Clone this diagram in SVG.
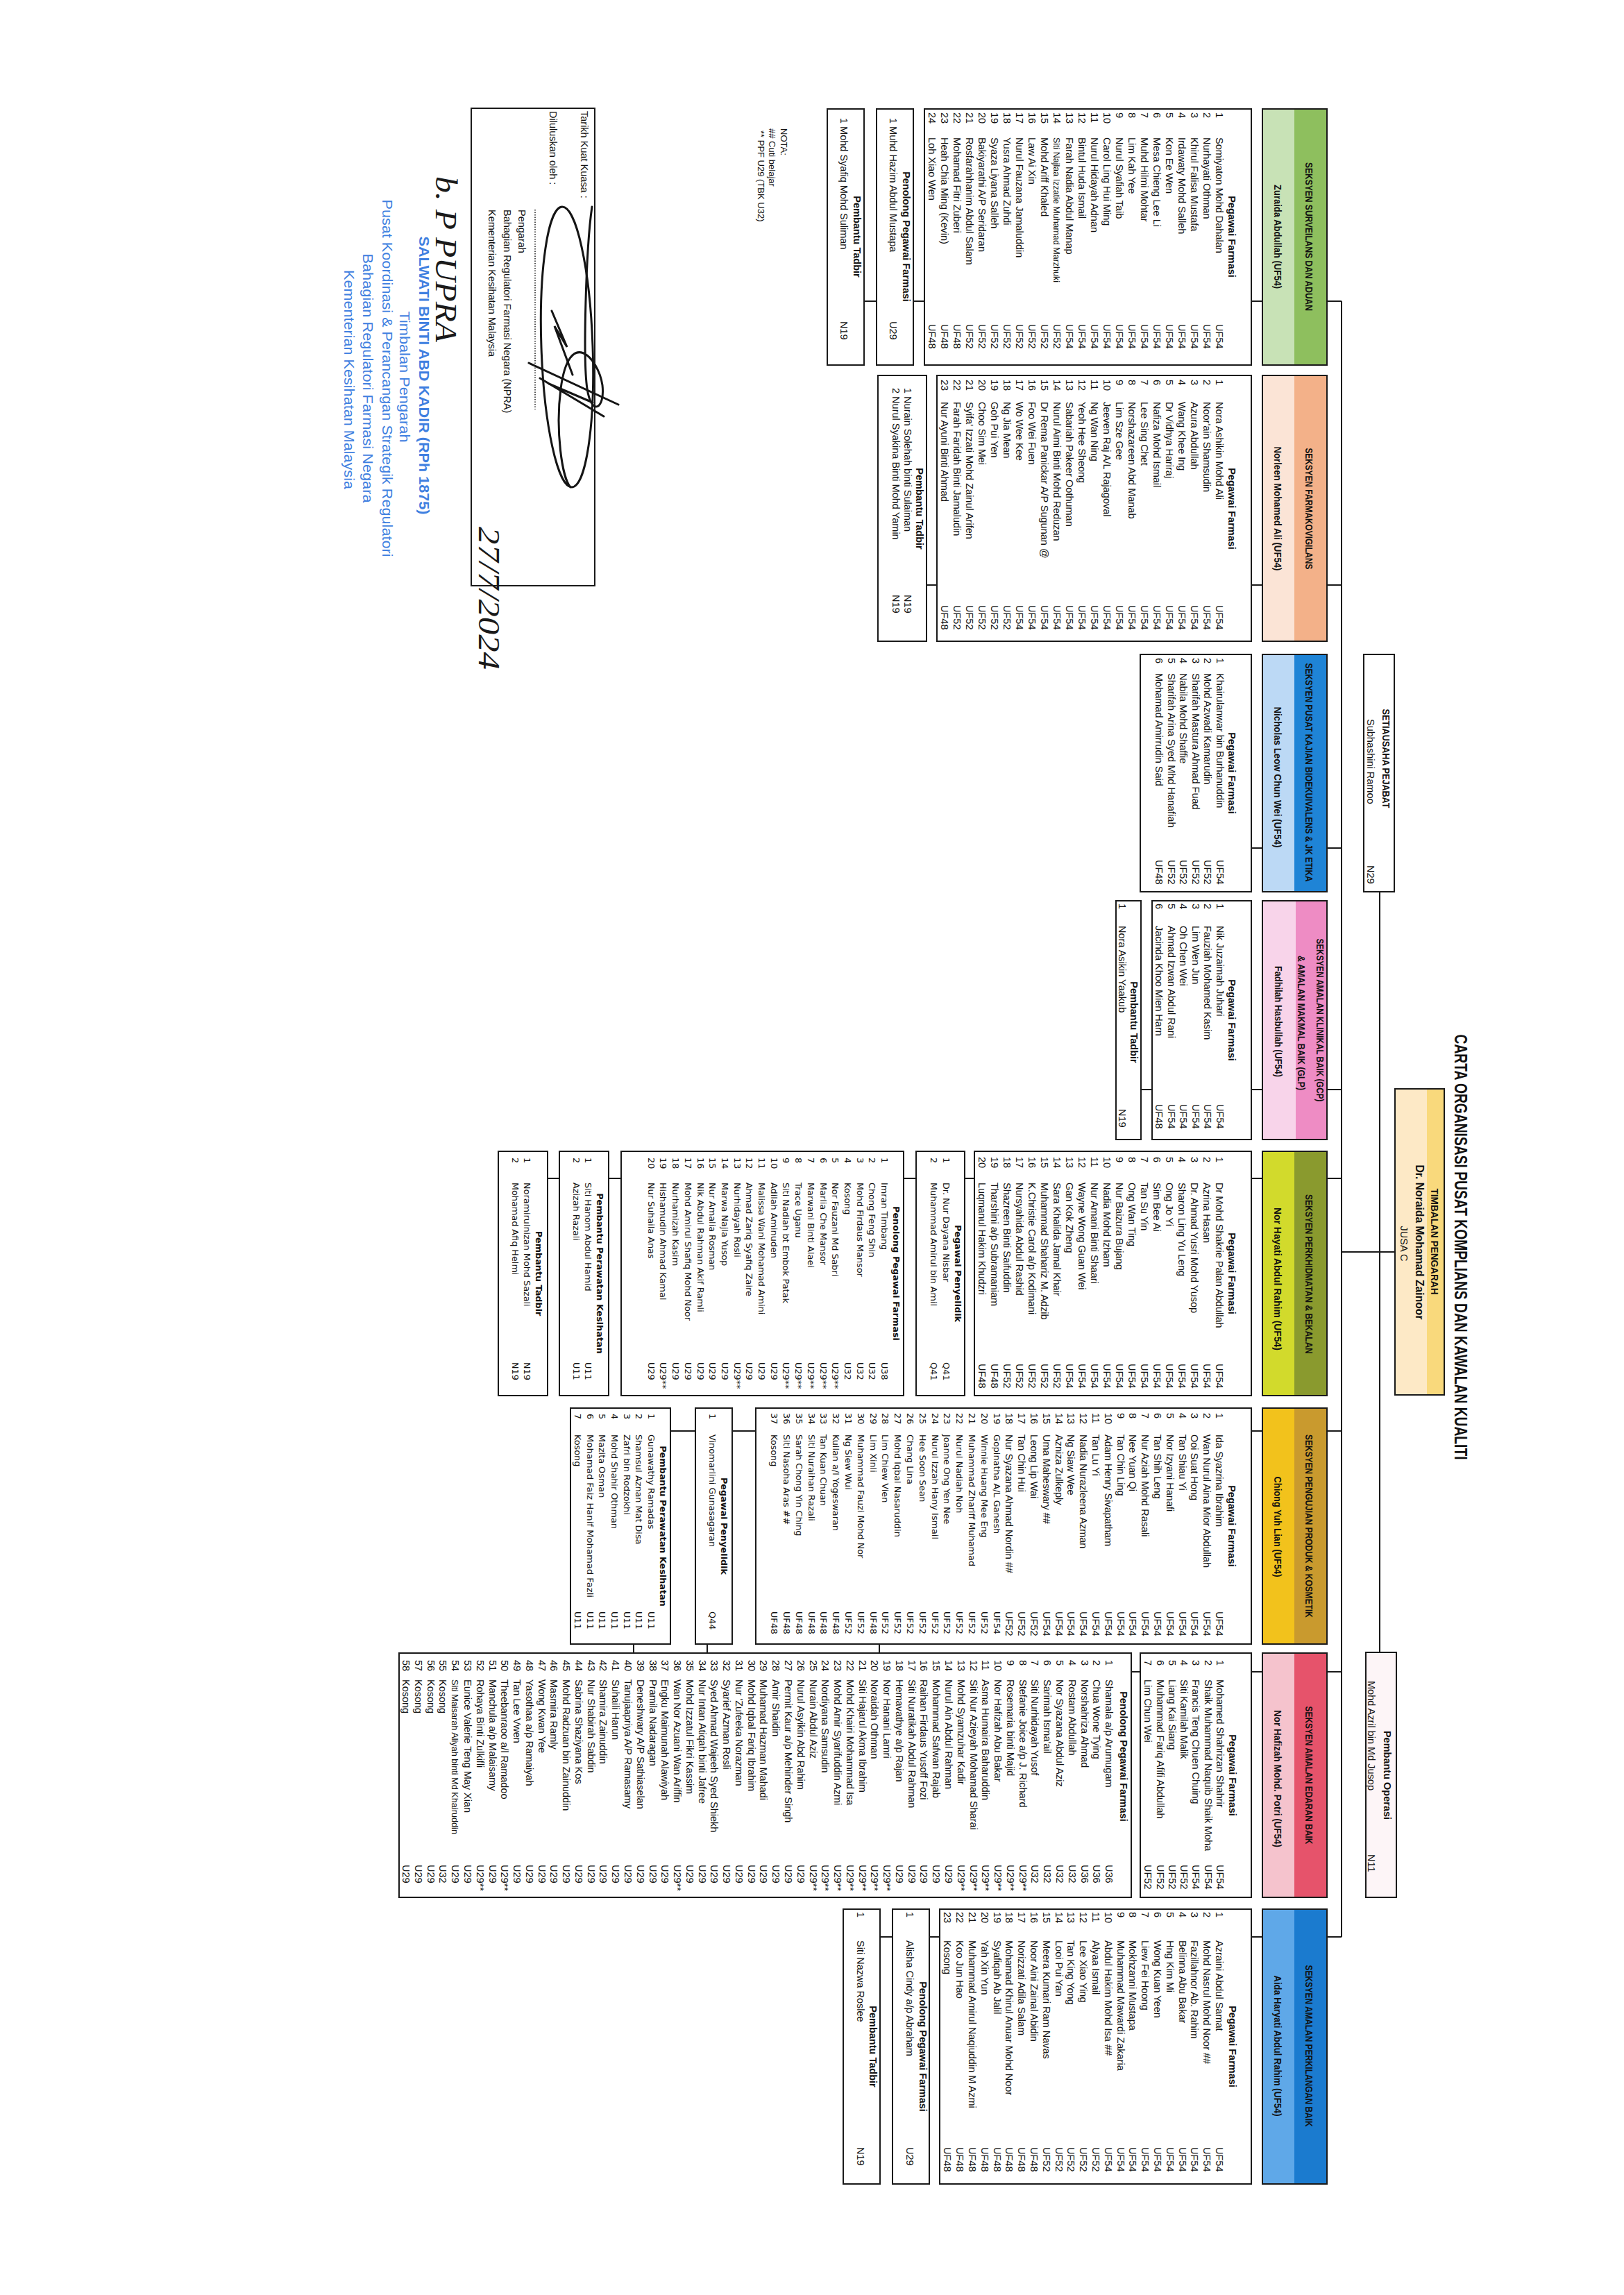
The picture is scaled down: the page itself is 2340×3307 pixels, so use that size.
<svg xmlns="http://www.w3.org/2000/svg" width="2340" height="3307" viewBox="0 0 2340 3307">
<style>
.t{font-family:"Liberation Sans",Arial,sans-serif;font-size:14.5px;fill:#111}
.bd{font-weight:bold}
.mid{text-anchor:middle}
.dv{font-family:"DejaVu Sans",Verdana,sans-serif;font-size:12.8px;fill:#111}
.hd{font-family:"Liberation Sans",Arial,sans-serif;font-weight:bold;font-size:14px;fill:#111;text-anchor:middle}
.box{fill:#fff;stroke:#1a1a1a;stroke-width:2}
.hb{fill:none;stroke:#1a1a1a;stroke-width:2}
.cn{fill:none;stroke:#1a1a1a;stroke-width:2}
.stamp{font-family:"Liberation Sans",Arial,sans-serif;font-size:21px;fill:#3f80e0;text-anchor:middle}
.hw{font-family:"Liberation Serif",serif;font-style:italic;font-size:44px;fill:#1a1a1a}
</style>
<rect x="0" y="0" width="2340" height="3307" fill="#fff"/>
<g transform="translate(2340,0) rotate(90)">

<text class="t bd mid" x="1797" y="244" style="font-size:25px" textLength="613" lengthAdjust="spacingAndGlyphs">CARTA ORGANISASI PUSAT KOMPLIANS DAN KAWALAN KUALITI</text>

<g id="connectors">
<path class="cn" d="M434 407H2791 M1804 330V407 M1285 352H2381
M434 407V428 M843 407V428 M1222 407V428 M1570 407V428 M1698 407V428 M2062 407V428 M2409 407V428 M2791 407V428
M434 521V537 M843 521V537 M1222 521V537 M1570 521V537 M1698 521V537 M2062 521V537 M2409 521V537 M2791 521V537
M434 1008V1024 M434 1077V1095 M843 990V1005 M1570 680V696
M1698 936V950 M1698 1020V1038 M1698 1445V1463 M1698 1534V1551
M2062 1251V1285 M2062 1338V1374 M2409 697V710
M2791 986V1001 M2791 1054V1072
M2369 1073H2382 M2369 1321H2382 M2369 1427H2382"/>
</g>

<g id="timbalan-pengarah">
<rect x="1569" y="259" width="441" height="71" fill="#fde9c6"/>
<rect x="1569" y="259" width="441" height="25" fill="#f9d97c"/>
<rect class="hb" x="1569" y="259" width="441" height="71"/>
<text class="t bd mid" x="1789" y="278" style="font-size:14px" textLength="153" lengthAdjust="spacingAndGlyphs">TIMBALAN PENGARAH</text>
<text class="t bd mid" x="1790" y="300" style="font-size:16px" textLength="223" lengthAdjust="spacingAndGlyphs">Dr. Noraida Mohamad Zainoor</text>
<text class="t mid" x="1792" y="322">JUSA C</text>
</g>

<g id="setiausaha-pejabat">
<rect class="box" x="943" y="331" width="342" height="44"/>
<text class="t bd mid" x="1093" y="348" style="font-size:14px" textLength="143" lengthAdjust="spacingAndGlyphs">SETIAUSAHA PEJABAT</text>
<text class="t" x="1036" y="370">Subhashini Ramoo</text>
<text class="t" x="1247" y="370">N29</text>
</g>

<g id="pembantu-operasi">
<rect x="2381" y="328" width="353" height="44" fill="#fdf5f7" stroke="#1a1a1a" stroke-width="2"/>
<text class="t bd mid" x="2558" y="346">Pembantu Operasi</text>
<text class="t" x="2422" y="369">Mohd Azril bin Md Jusop</text>
<text class="t" x="2672" y="369">N11</text>
</g>

<!-- Column 1 -->
<g id="sek-surveilans">
<rect x="157" y="428" width="369" height="93" fill="#c8e2b6"/>
<rect x="157" y="428" width="369" height="47" fill="#8ebf5e"/>
<rect class="hb" x="157" y="428" width="369" height="93"/>
<text class="hd" x="341" y="459" textLength="214" lengthAdjust="spacingAndGlyphs">SEKSYEN SURVEILANS DAN ADUAN</text>
<text class="hd" x="341" y="504" textLength="150" lengthAdjust="spacingAndGlyphs">Zuraida Abdullah (UF54)</text>
</g>
<g id="surv-pf">
<rect class="box" x="157" y="537" width="369" height="471"/>
<text class="t bd mid" x="341" y="570">Pegawai Farmasi</text>
<text class="t" y="588"><tspan x="162">1</tspan><tspan x="198">Somiyaton Mohd Dahalan</tspan><tspan x="467">UF54</tspan></text>
<text class="t" y="606"><tspan x="162">2</tspan><tspan x="198">Nurhayati Othman</tspan><tspan x="467">UF54</tspan></text>
<text class="t" y="624"><tspan x="162">3</tspan><tspan x="198">Khirul Falisa Mustafa</tspan><tspan x="467">UF54</tspan></text>
<text class="t" y="642"><tspan x="162">4</tspan><tspan x="198">Irdawaty Mohd Salleh</tspan><tspan x="467">UF54</tspan></text>
<text class="t" y="660"><tspan x="162">5</tspan><tspan x="198">Kon Ee Wen</tspan><tspan x="467">UF54</tspan></text>
<text class="t" y="678"><tspan x="162">6</tspan><tspan x="198">Mesa Chieng Lee Li</tspan><tspan x="467">UF54</tspan></text>
<text class="t" y="696"><tspan x="162">7</tspan><tspan x="198">Muhd Hilmi Mohtar</tspan><tspan x="467">UF54</tspan></text>
<text class="t" y="714"><tspan x="162">8</tspan><tspan x="198">Lim Kah Yee</tspan><tspan x="467">UF54</tspan></text>
<text class="t" y="732"><tspan x="162">9</tspan><tspan x="198">Nurul Syafiah Taib</tspan><tspan x="467">UF54</tspan></text>
<text class="t" y="750"><tspan x="162">10</tspan><tspan x="198">Carol Ling Hui Ming</tspan><tspan x="467">UF54</tspan></text>
<text class="t" y="768"><tspan x="162">11</tspan><tspan x="198">Nurul Hidayah Adnan</tspan><tspan x="467">UF54</tspan></text>
<text class="t" y="786"><tspan x="162">12</tspan><tspan x="198">Bintul Huda Ismail</tspan><tspan x="467">UF54</tspan></text>
<text class="t" y="804"><tspan x="162">13</tspan><tspan x="198">Farah Nadia Abdul Manap</tspan><tspan x="467">UF54</tspan></text>
<text class="t" y="822"><tspan x="162">14</tspan><tspan x="467">UF52</tspan></text>
<text class="t" x="198" y="822" style="font-size:13px" textLength="209" lengthAdjust="spacingAndGlyphs">Siti Najlaa Izzatie Muhamad Marzhuki</text>
<text class="t" y="840"><tspan x="162">15</tspan><tspan x="198">Mohd Ariff Khaled</tspan><tspan x="467">UF52</tspan></text>
<text class="t" y="858"><tspan x="162">16</tspan><tspan x="198">Law Ai Xin</tspan><tspan x="467">UF52</tspan></text>
<text class="t" y="876"><tspan x="162">17</tspan><tspan x="198">Nurul Fauzana Jamaluddin</tspan><tspan x="467">UF52</tspan></text>
<text class="t" y="894"><tspan x="162">18</tspan><tspan x="198">Yusra Ahmad Zuhdi</tspan><tspan x="467">UF52</tspan></text>
<text class="t" y="912"><tspan x="162">19</tspan><tspan x="198">Syaza Liyana Salleh</tspan><tspan x="467">UF52</tspan></text>
<text class="t" y="930"><tspan x="162">20</tspan><tspan x="198">Bakiyarathi A/P Seridaran</tspan><tspan x="467">UF52</tspan></text>
<text class="t" y="948"><tspan x="162">21</tspan><tspan x="198">Rosfarahhanim Abdul Salam</tspan><tspan x="467">UF52</tspan></text>
<text class="t" y="966"><tspan x="162">22</tspan><tspan x="198">Mohamad Fitri Zuberi</tspan><tspan x="467">UF48</tspan></text>
<text class="t" y="984"><tspan x="162">23</tspan><tspan x="198">Heah Chia Ming (Kevin)</tspan><tspan x="467">UF48</tspan></text>
<text class="t" y="1002"><tspan x="162">24</tspan><tspan x="198">Loh Xiao Wen</tspan><tspan x="467">UF48</tspan></text>
</g>
<g id="surv-ppf">
<rect class="box" x="157" y="1024" width="369" height="53"/>
<text class="t bd mid" x="341" y="1039">Penolong Pegawai Farmasi</text>
<text class="t" y="1058"><tspan x="170">1 Muhd Hazim Abdul Mustapa</tspan><tspan x="463">U29</tspan></text>
</g>
<g id="surv-pt">
<rect class="box" x="157" y="1095" width="369" height="53"/>
<text class="t bd mid" x="341" y="1110">Pembantu Tadbir</text>
<text class="t" y="1129"><tspan x="170">1 Mohd Syafiq Mohd Suliman</tspan><tspan x="463">N19</tspan></text>
</g>
<g id="nota">
<text class="t" x="185" y="1215" style="font-size:13px">NOTA:</text>
<text class="t" x="185" y="1232" style="font-size:13px">## Cuti belajar</text>
<text class="t" x="188" y="1248" style="font-size:13px">** PPF U29 (TBK U32)</text>
</g>

<!-- Column 2 -->
<g id="sek-farmakovigilans">
<rect x="541" y="428" width="383" height="93" fill="#fbe4d6"/>
<rect x="541" y="428" width="383" height="47" fill="#f3b189"/>
<rect class="hb" x="541" y="428" width="383" height="93"/>
<text class="hd" x="733" y="459" textLength="175" lengthAdjust="spacingAndGlyphs">SEKSYEN FARMAKOVIGILANS</text>
<text class="hd" x="733" y="504" textLength="179" lengthAdjust="spacingAndGlyphs">Norleen Mohamed Ali (UF54)</text>
</g>
<g id="fv-pf">
<rect class="box" x="541" y="537" width="383" height="453"/>
<text class="t bd mid" x="733" y="570">Pegawai Farmasi</text>
<text class="t" y="588"><tspan x="547">1</tspan><tspan x="579">Nora Ashikin Mohd Ali</tspan><tspan x="872">UF54</tspan></text>
<text class="t" y="606"><tspan x="547">2</tspan><tspan x="579">Noor'ain Shamsudin</tspan><tspan x="872">UF54</tspan></text>
<text class="t" y="624"><tspan x="547">3</tspan><tspan x="579">Azura Abdullah</tspan><tspan x="872">UF54</tspan></text>
<text class="t" y="642"><tspan x="547">4</tspan><tspan x="579">Wang Khee Ing</tspan><tspan x="872">UF54</tspan></text>
<text class="t" y="660"><tspan x="547">5</tspan><tspan x="579">Dr Vidhya Hariraj</tspan><tspan x="872">UF54</tspan></text>
<text class="t" y="678"><tspan x="547">6</tspan><tspan x="579">Nafiza Mohd Ismail</tspan><tspan x="872">UF54</tspan></text>
<text class="t" y="696"><tspan x="547">7</tspan><tspan x="579">Lee Sing Chet</tspan><tspan x="872">UF54</tspan></text>
<text class="t" y="714"><tspan x="547">8</tspan><tspan x="579">Norshazareen Abd Manab</tspan><tspan x="872">UF54</tspan></text>
<text class="t" y="732"><tspan x="547">9</tspan><tspan x="579">Lim Sze Gee</tspan><tspan x="872">UF54</tspan></text>
<text class="t" y="750"><tspan x="547">10</tspan><tspan x="579">Jeeven Raj A/L Rajagoval</tspan><tspan x="872">UF54</tspan></text>
<text class="t" y="768"><tspan x="547">11</tspan><tspan x="579">Ng Wan Ning</tspan><tspan x="872">UF54</tspan></text>
<text class="t" y="786"><tspan x="547">12</tspan><tspan x="579">Yeoh Hee Sheong</tspan><tspan x="872">UF54</tspan></text>
<text class="t" y="804"><tspan x="547">13</tspan><tspan x="579">Sabariah Pakeer Oothuman</tspan><tspan x="872">UF54</tspan></text>
<text class="t" y="822"><tspan x="547">14</tspan><tspan x="579">Nurul Aimi Binti Mohd Reduzan</tspan><tspan x="872">UF54</tspan></text>
<text class="t" y="840"><tspan x="547">15</tspan><tspan x="579">Dr Rema Panickar A/P Sugunan @</tspan><tspan x="872">UF54</tspan></text>
<text class="t" y="858"><tspan x="547">16</tspan><tspan x="579">Foo Wei Fuen</tspan><tspan x="872">UF54</tspan></text>
<text class="t" y="876"><tspan x="547">17</tspan><tspan x="579">Wo Wee Kee</tspan><tspan x="872">UF54</tspan></text>
<text class="t" y="894"><tspan x="547">18</tspan><tspan x="579">Ng Jia Mean</tspan><tspan x="872">UF52</tspan></text>
<text class="t" y="912"><tspan x="547">19</tspan><tspan x="579">Goh Pui Yen</tspan><tspan x="872">UF52</tspan></text>
<text class="t" y="930"><tspan x="547">20</tspan><tspan x="579">Choo Sim Mei</tspan><tspan x="872">UF52</tspan></text>
<text class="t" y="948"><tspan x="547">21</tspan><tspan x="579">Syifa' Izzati Mohd Zainul Arifen</tspan><tspan x="872">UF52</tspan></text>
<text class="t" y="966"><tspan x="547">22</tspan><tspan x="579">Farah Faridah Binti Jamaludin</tspan><tspan x="872">UF52</tspan></text>
<text class="t" y="984"><tspan x="547">23</tspan><tspan x="579">Nur Ayuni Binti Ahmad</tspan><tspan x="872">UF48</tspan></text>
</g>
<g id="fv-pt">
<rect class="box" x="541" y="1005" width="383" height="70"/>
<text class="t bd mid" x="733" y="1020">Pembantu Tadbir</text>
<text class="t" y="1037"><tspan x="559">1 Nurain Solehah binti Sulaiman</tspan><tspan x="857">N19</tspan></text>
<text class="t" y="1054"><tspan x="559">2 Nurul Syakina Binti Mohd Yamin</tspan><tspan x="857">N19</tspan></text>
</g>

<!-- Column 3 -->
<g id="sek-bioekuivalens">
<rect x="943" y="428" width="342" height="93" fill="#bcd9f5"/>
<rect x="943" y="428" width="342" height="47" fill="#1f84d6"/>
<rect class="hb" x="943" y="428" width="342" height="93"/>
<text class="hd" x="1113" y="459" textLength="315" lengthAdjust="spacingAndGlyphs">SEKSYEN PUSAT KAJIAN BIOEKUIVALENS &amp; JK ETIKA</text>
<text class="hd" x="1120" y="504" textLength="203" lengthAdjust="spacingAndGlyphs">Nicholas Leow Chun Wei (UF54)</text>
</g>
<g id="be-pf">
<rect class="box" x="943" y="537" width="342" height="160"/>
<text class="t bd mid" x="1114" y="570">Pegawai Farmasi</text>
<text class="t" y="587"><tspan x="948">1</tspan><tspan x="970">Khairulanwar bin Burhanuddin</tspan><tspan x="1239">UF54</tspan></text>
<text class="t" y="604.6"><tspan x="948">2</tspan><tspan x="970">Mohd Azwadi Kamarudin</tspan><tspan x="1239">UF52</tspan></text>
<text class="t" y="622.2"><tspan x="948">3</tspan><tspan x="970">Sharifah Mastura Ahmad Fuad</tspan><tspan x="1239">UF52</tspan></text>
<text class="t" y="639.8"><tspan x="948">4</tspan><tspan x="970">Nabila Mohd Shaffie</tspan><tspan x="1239">UF52</tspan></text>
<text class="t" y="657.4"><tspan x="948">5</tspan><tspan x="970">Sharifah Arina Syed Mhd Hanafiah</tspan><tspan x="1239">UF52</tspan></text>
<text class="t" y="675"><tspan x="948">6</tspan><tspan x="970">Mohamad Amirrudin Said</tspan><tspan x="1239">UF48</tspan></text>
</g>

<!-- Column 4 -->
<g id="sek-gcp-glp">
<rect x="1298" y="428" width="344" height="93" fill="#f8d4ea"/>
<rect x="1298" y="428" width="344" height="45" fill="#ee8cc4"/>
<rect class="hb" x="1298" y="428" width="344" height="93"/>
<text class="hd" x="1470" y="443" textLength="235" lengthAdjust="spacingAndGlyphs">SEKSYEN AMALAN KLINIKAL BAIK (GCP)</text>
<text class="hd" x="1474" y="470" textLength="194" lengthAdjust="spacingAndGlyphs">&amp; AMALAN MAKMAL BAIK (GLP)</text>
<text class="hd" x="1472" y="503" textLength="160" lengthAdjust="spacingAndGlyphs">Fadhilah Hasbullah (UF54)</text>
</g>
<g id="gcp-pf">
<rect class="box" x="1298" y="537" width="344" height="143"/>
<text class="t bd mid" x="1470" y="570">Pegawai Farmasi</text>
<text class="t" y="587"><tspan x="1302">1</tspan><tspan x="1334">Nik Juzaimah Juhari</tspan><tspan x="1591">UF54</tspan></text>
<text class="t" y="604.6"><tspan x="1302">2</tspan><tspan x="1334">Fauziah Mohamed Kasim</tspan><tspan x="1591">UF54</tspan></text>
<text class="t" y="622.2"><tspan x="1302">3</tspan><tspan x="1334">Lim Wen Jun</tspan><tspan x="1591">UF54</tspan></text>
<text class="t" y="639.8"><tspan x="1302">4</tspan><tspan x="1334">Oh Chen Wei</tspan><tspan x="1591">UF54</tspan></text>
<text class="t" y="657.4"><tspan x="1302">5</tspan><tspan x="1334">Ahmad Izwan Abdul Rani</tspan><tspan x="1591">UF54</tspan></text>
<text class="t" y="675"><tspan x="1302">6</tspan><tspan x="1334">Jacinda Khoo Mien Harn</tspan><tspan x="1591">UF48</tspan></text>
</g>
<g id="gcp-pt">
<rect class="box" x="1298" y="696" width="344" height="36"/>
<text class="t bd mid" x="1473" y="711">Pembantu Tadbir</text>
<text class="t" y="728"><tspan x="1302">1</tspan><tspan x="1334">Nora Asikin Yaakub</tspan><tspan x="1598">N19</tspan></text>
</g>

<!-- Column 5 -->
<g id="sek-perkhidmatan">
<rect x="1659" y="428" width="352" height="93" fill="#d2da2c"/>
<rect x="1659" y="428" width="352" height="47" fill="#8a9a2e"/>
<rect class="hb" x="1659" y="428" width="352" height="93"/>
<text class="hd" x="1836" y="459" textLength="230" lengthAdjust="spacingAndGlyphs">SEKSYEN PERKHIDMATAN &amp; BEKALAN</text>
<text class="hd" x="1843" y="504" textLength="206" lengthAdjust="spacingAndGlyphs">Nor Hayati Abdul Rahim (UF54)</text>
</g>
<g id="pb-pf">
<rect class="box" x="1659" y="537" width="352" height="399"/>
<text class="t bd mid" x="1835" y="570">Pegawai Farmasi</text>
<text class="t" y="588"><tspan x="1667">1</tspan><tspan x="1704">Dr Mohd Shakrie Palan Abdullah</tspan><tspan x="1965">UF54</tspan></text>
<text class="t" y="606"><tspan x="1667">2</tspan><tspan x="1704">Azrina Hasan</tspan><tspan x="1965">UF54</tspan></text>
<text class="t" y="624"><tspan x="1667">3</tspan><tspan x="1704">Dr. Ahmad Yusri Mohd Yusop</tspan><tspan x="1965">UF54</tspan></text>
<text class="t" y="642"><tspan x="1667">4</tspan><tspan x="1704">Sharon Ling Yu Leng</tspan><tspan x="1965">UF54</tspan></text>
<text class="t" y="660"><tspan x="1667">5</tspan><tspan x="1704">Ong Jo Yi</tspan><tspan x="1965">UF54</tspan></text>
<text class="t" y="678"><tspan x="1667">6</tspan><tspan x="1704">Sim Bee Ai</tspan><tspan x="1965">UF54</tspan></text>
<text class="t" y="696"><tspan x="1667">7</tspan><tspan x="1704">Tan Su Yin</tspan><tspan x="1965">UF54</tspan></text>
<text class="t" y="714"><tspan x="1667">8</tspan><tspan x="1704">Ong Wan Ting</tspan><tspan x="1965">UF54</tspan></text>
<text class="t" y="732"><tspan x="1667">9</tspan><tspan x="1704">Nur Baizura Bujang</tspan><tspan x="1965">UF54</tspan></text>
<text class="t" y="750"><tspan x="1667">10</tspan><tspan x="1704">Nadia Mohd Izham</tspan><tspan x="1965">UF54</tspan></text>
<text class="t" y="768"><tspan x="1667">11</tspan><tspan x="1704">Nur Amani Binti Shaari</tspan><tspan x="1965">UF54</tspan></text>
<text class="t" y="786"><tspan x="1667">12</tspan><tspan x="1704">Wayne Wong Guan Wei</tspan><tspan x="1965">UF54</tspan></text>
<text class="t" y="804"><tspan x="1667">13</tspan><tspan x="1704">Gan Kok Zheng</tspan><tspan x="1965">UF54</tspan></text>
<text class="t" y="822"><tspan x="1667">14</tspan><tspan x="1704">Sara Khalida Jamal Khair</tspan><tspan x="1965">UF52</tspan></text>
<text class="t" y="840"><tspan x="1667">15</tspan><tspan x="1704">Muhammad Shahariz M. Adzib</tspan><tspan x="1965">UF52</tspan></text>
<text class="t" y="858"><tspan x="1667">16</tspan><tspan x="1704">K.Christie Carol a/p Kodimani</tspan><tspan x="1965">UF52</tspan></text>
<text class="t" y="876"><tspan x="1667">17</tspan><tspan x="1704">Nursyahida Abdul Rashid</tspan><tspan x="1965">UF52</tspan></text>
<text class="t" y="894"><tspan x="1667">18</tspan><tspan x="1704">Shazreen Binti Saifuddin</tspan><tspan x="1965">UF52</tspan></text>
<text class="t" y="912"><tspan x="1667">19</tspan><tspan x="1704">Tharshini a/p Subramaniam</tspan><tspan x="1965">UF48</tspan></text>
<text class="t" y="930"><tspan x="1667">20</tspan><tspan x="1704">Luqmanul Hakim Khudzri</tspan><tspan x="1965">UF48</tspan></text>
</g>
<g id="pb-pp">
<rect class="box" x="1659" y="950" width="352" height="70"/>
<text class="dv bd mid" x="1835" y="964">Pegawai Penyelidik</text>
<text class="dv" y="981"><tspan x="1668">1</tspan><tspan x="1704">Dr. Nur Dayana Nisbar</tspan><tspan x="1963">Q41</tspan></text>
<text class="dv" y="999"><tspan x="1668">2</tspan><tspan x="1704">Muhammad Amirul bin Amil</tspan><tspan x="1963">Q41</tspan></text>
</g>
<g id="pb-ppf">
<rect class="box" x="1659" y="1038" width="352" height="407"/>
<text class="dv bd mid" x="1835" y="1053">Penolong Pegawai Farmasi</text>
<text class="dv" y="1070"><tspan x="1668">1</tspan><tspan x="1704">Imran Timbang</tspan><tspan x="1963">U38</tspan></text>
<text class="dv" y="1087.7"><tspan x="1668">2</tspan><tspan x="1704">Chong Feng Shin</tspan><tspan x="1963">U32</tspan></text>
<text class="dv" y="1105.4"><tspan x="1668">3</tspan><tspan x="1704">Mohd Firdaus Mansor</tspan><tspan x="1963">U32</tspan></text>
<text class="dv" y="1123.1"><tspan x="1668">4</tspan><tspan x="1704">Kosong</tspan><tspan x="1963">U32</tspan></text>
<text class="dv" y="1140.8"><tspan x="1668">5</tspan><tspan x="1704">Nor Fauzani Md Sabri</tspan><tspan x="1963">U29**</tspan></text>
<text class="dv" y="1158.5"><tspan x="1668">6</tspan><tspan x="1704">Marlia Che Mansor</tspan><tspan x="1963">U29**</tspan></text>
<text class="dv" y="1176.2"><tspan x="1668">7</tspan><tspan x="1704">Marwani Binti Alaei</tspan><tspan x="1963">U29**</tspan></text>
<text class="dv" y="1193.9"><tspan x="1668">8</tspan><tspan x="1704">Trace Uganu</tspan><tspan x="1963">U29**</tspan></text>
<text class="dv" y="1211.6"><tspan x="1668">9</tspan><tspan x="1704">Siti Nadiah bt Embok Patak</tspan><tspan x="1963">U29**</tspan></text>
<text class="dv" y="1229.3"><tspan x="1668">10</tspan><tspan x="1704">Adilah Aminuden</tspan><tspan x="1963">U29</tspan></text>
<text class="dv" y="1247"><tspan x="1668">11</tspan><tspan x="1704">Malissa Wani Mohamad Amini</tspan><tspan x="1963">U29</tspan></text>
<text class="dv" y="1264.7"><tspan x="1668">12</tspan><tspan x="1704">Ahmad Zariq Syafiq Zaire</tspan><tspan x="1963">U29</tspan></text>
<text class="dv" y="1282.4"><tspan x="1668">13</tspan><tspan x="1704">Nurhidayah Rosli</tspan><tspan x="1963">U29**</tspan></text>
<text class="dv" y="1300.1"><tspan x="1668">14</tspan><tspan x="1704">Marwa Najla Yusop</tspan><tspan x="1963">U29</tspan></text>
<text class="dv" y="1317.8"><tspan x="1668">15</tspan><tspan x="1704">Nur Amalia Rosman</tspan><tspan x="1963">U29</tspan></text>
<text class="dv" y="1335.5"><tspan x="1668">16</tspan><tspan x="1704">Nik Abdul Rahman Akif Ramli</tspan><tspan x="1963">U29</tspan></text>
<text class="dv" y="1353.2"><tspan x="1668">17</tspan><tspan x="1704">Mohd Amirul Shafiq Mohd Noor</tspan><tspan x="1963">U29</tspan></text>
<text class="dv" y="1370.9"><tspan x="1668">18</tspan><tspan x="1704">Nurhamizah Kasim</tspan><tspan x="1963">U29</tspan></text>
<text class="dv" y="1388.6"><tspan x="1668">19</tspan><tspan x="1704">Hishamudin Ahmad Kamal</tspan><tspan x="1963">U29**</tspan></text>
<text class="dv" y="1406.3"><tspan x="1668">20</tspan><tspan x="1704">Nur Suhaila Anas</tspan><tspan x="1963">U29</tspan></text>
</g>
<g id="pb-ppk">
<rect class="box" x="1659" y="1463" width="352" height="71"/>
<text class="dv bd mid" x="1835" y="1480">Pembantu Perawatan Kesihatan</text>
<text class="dv" y="1497"><tspan x="1668">1</tspan><tspan x="1704">Siti Hanom Abdul Hamid</tspan><tspan x="1963">U11</tspan></text>
<text class="dv" y="1514"><tspan x="1668">2</tspan><tspan x="1704">Azizah Razali</tspan><tspan x="1963">U11</tspan></text>
</g>
<g id="pb-pt">
<rect class="box" x="1659" y="1551" width="352" height="71"/>
<text class="dv bd mid" x="1835" y="1568">Pembantu Tadbir</text>
<text class="dv" y="1585"><tspan x="1668">1</tspan><tspan x="1704">Noramirulnizan Mohd Sazali</tspan><tspan x="1963">N19</tspan></text>
<text class="dv" y="1602"><tspan x="1668">2</tspan><tspan x="1704">Mohamad Afiq Helmi</tspan><tspan x="1963">N19</tspan></text>
</g>

<!-- Column 6 -->
<g id="sek-pengujian">
<rect x="2029" y="428" width="340" height="93" fill="#f2c21c"/>
<rect x="2029" y="428" width="340" height="47" fill="#c99a2e"/>
<rect class="hb" x="2029" y="428" width="340" height="93"/>
<text class="hd" x="2199" y="459" textLength="264" lengthAdjust="spacingAndGlyphs">SEKSYEN PENGUJIAN PRODUK &amp; KOSMETIK</text>
<text class="hd" x="2200" y="504" textLength="145" lengthAdjust="spacingAndGlyphs">Chiong Yuh Lian (UF54)</text>
</g>
<g id="pk-pf">
<rect class="box" x="2029" y="537" width="340" height="714"/>
<text class="t bd mid" x="2199" y="570">Pegawai Farmasi</text>
<text class="t" y="588"><tspan x="2036">1</tspan><tspan x="2067">Ida Syazrina Ibrahim</tspan><tspan x="2322">UF54</tspan></text>
<text class="t" y="605.8"><tspan x="2036">2</tspan><tspan x="2067">Wan Nurul Aina Mior Abdullah</tspan><tspan x="2322">UF54</tspan></text>
<text class="t" y="623.6"><tspan x="2036">3</tspan><tspan x="2067">Ooi Suat Hong</tspan><tspan x="2322">UF54</tspan></text>
<text class="t" y="641.4"><tspan x="2036">4</tspan><tspan x="2067">Tan Shiau Yi</tspan><tspan x="2322">UF54</tspan></text>
<text class="t" y="659.2"><tspan x="2036">5</tspan><tspan x="2067">Nor Izyani Hanafi</tspan><tspan x="2322">UF54</tspan></text>
<text class="t" y="677"><tspan x="2036">6</tspan><tspan x="2067">Tan Shih Leng</tspan><tspan x="2322">UF54</tspan></text>
<text class="t" y="694.8"><tspan x="2036">7</tspan><tspan x="2067">Nur Aziah Mohd Rasali</tspan><tspan x="2322">UF54</tspan></text>
<text class="t" y="712.6"><tspan x="2036">8</tspan><tspan x="2067">Nee Yuan Qi</tspan><tspan x="2322">UF54</tspan></text>
<text class="t" y="730.4"><tspan x="2036">9</tspan><tspan x="2067">Tan Chin Ling</tspan><tspan x="2322">UF54</tspan></text>
<text class="t" y="748.2"><tspan x="2036">10</tspan><tspan x="2067">Adam Henry Sivapatham</tspan><tspan x="2322">UF54</tspan></text>
<text class="t" y="766"><tspan x="2036">11</tspan><tspan x="2067">Tan Lu Yi</tspan><tspan x="2322">UF54</tspan></text>
<text class="t" y="783.8"><tspan x="2036">12</tspan><tspan x="2067">Nadia Nurazleena Azman</tspan><tspan x="2322">UF54</tspan></text>
<text class="t" y="801.6"><tspan x="2036">13</tspan><tspan x="2067">Ng Siaw Wee</tspan><tspan x="2322">UF54</tspan></text>
<text class="t" y="819.4"><tspan x="2036">14</tspan><tspan x="2067">Azniza Zulkeply</tspan><tspan x="2322">UF54</tspan></text>
<text class="t" y="837.2"><tspan x="2036">15</tspan><tspan x="2067">Uma Maheswary ##</tspan><tspan x="2322">UF54</tspan></text>
<text class="t" y="855"><tspan x="2036">16</tspan><tspan x="2067">Leong Lip Wai</tspan><tspan x="2322">UF52</tspan></text>
<text class="t" y="872.8"><tspan x="2036">17</tspan><tspan x="2067">Tan Chin Hui</tspan><tspan x="2322">UF52</tspan></text>
<text class="t" y="890.6"><tspan x="2036">18</tspan><tspan x="2067">Nur Syazana Ahmad Nordin ##</tspan><tspan x="2322">UF52</tspan></text>
<text class="dv" y="908.4"><tspan x="2036">19</tspan><tspan x="2067">Gopinatha A/L Ganesh</tspan><tspan x="2322">UF54</tspan></text>
<text class="dv" y="926.2"><tspan x="2036">20</tspan><tspan x="2067">Winnie Huang Mee Eng</tspan><tspan x="2322">UF52</tspan></text>
<text class="dv" y="944"><tspan x="2036">21</tspan><tspan x="2067">Muhammad Zhariff Muhamad</tspan><tspan x="2322">UF52</tspan></text>
<text class="dv" y="961.8"><tspan x="2036">22</tspan><tspan x="2067">Nurul Nadiah Noh</tspan><tspan x="2322">UF52</tspan></text>
<text class="dv" y="979.6"><tspan x="2036">23</tspan><tspan x="2067">Joanne Ong Yen Nee</tspan><tspan x="2322">UF52</tspan></text>
<text class="dv" y="997.4"><tspan x="2036">24</tspan><tspan x="2067">Nurul Izzah Hany Ismail</tspan><tspan x="2322">UF52</tspan></text>
<text class="dv" y="1015.2"><tspan x="2036">25</tspan><tspan x="2067">Hee Soon Sean</tspan><tspan x="2322">UF52</tspan></text>
<text class="dv" y="1033"><tspan x="2036">26</tspan><tspan x="2067">Chang Lina</tspan><tspan x="2322">UF52</tspan></text>
<text class="dv" y="1050.8"><tspan x="2036">27</tspan><tspan x="2067">Mohd Iqbal Nasaruddin</tspan><tspan x="2322">UF52</tspan></text>
<text class="dv" y="1068.6"><tspan x="2036">28</tspan><tspan x="2067">Lim Chiew Vien</tspan><tspan x="2322">UF52</tspan></text>
<text class="dv" y="1086.4"><tspan x="2036">29</tspan><tspan x="2067">Lim Xinli</tspan><tspan x="2322">UF48</tspan></text>
<text class="dv" y="1104.2"><tspan x="2036">30</tspan><tspan x="2067">Muhammad Fauzi Mohd Nor</tspan><tspan x="2322">UF52</tspan></text>
<text class="dv" y="1122"><tspan x="2036">31</tspan><tspan x="2067">Ng Siew Wui</tspan><tspan x="2322">UF52</tspan></text>
<text class="dv" y="1139.8"><tspan x="2036">32</tspan><tspan x="2067">Kuilan a/l Yogeswaran</tspan><tspan x="2322">UF48</tspan></text>
<text class="dv" y="1157.6"><tspan x="2036">33</tspan><tspan x="2067">Tan Kuan Chuan</tspan><tspan x="2322">UF48</tspan></text>
<text class="dv" y="1175.4"><tspan x="2036">34</tspan><tspan x="2067">Siti Nuraihan Razali</tspan><tspan x="2322">UF48</tspan></text>
<text class="dv" y="1193.2"><tspan x="2036">35</tspan><tspan x="2067">Sarah Chong Yin Ching</tspan><tspan x="2322">UF48</tspan></text>
<text class="dv" y="1211"><tspan x="2036">36</tspan><tspan x="2067">Siti Nasoha Aras ##</tspan><tspan x="2322">UF48</tspan></text>
<text class="dv" y="1228.8"><tspan x="2036">37</tspan><tspan x="2067">Kosong</tspan><tspan x="2322">UF48</tspan></text>
</g>
<g id="pk-pp">
<rect class="box" x="2029" y="1285" width="340" height="53"/>
<text class="dv bd mid" x="2199" y="1301">Pegawai Penyelidik</text>
<text class="dv" y="1318"><tspan x="2037">1</tspan><tspan x="2067">Vinomarlini Gunasagaran</tspan><tspan x="2322">Q44</tspan></text>
</g>
<g id="pk-ppk">
<rect class="box" x="2029" y="1374" width="340" height="144"/>
<text class="dv bd mid" x="2199" y="1389">Pembantu Perawatan Kesihatan</text>
<text class="dv" y="1406"><tspan x="2037">1</tspan><tspan x="2067">Gunawathy Ramadas</tspan><tspan x="2322">U11</tspan></text>
<text class="dv" y="1423.7"><tspan x="2037">2</tspan><tspan x="2067">Shamsul Aznan Mat Disa</tspan><tspan x="2322">U11</tspan></text>
<text class="dv" y="1441.4"><tspan x="2037">3</tspan><tspan x="2067">Zafri bin Rodzokhi</tspan><tspan x="2322">U11</tspan></text>
<text class="dv" y="1459.1"><tspan x="2037">4</tspan><tspan x="2067">Mohd Shahir Othman</tspan><tspan x="2322">U11</tspan></text>
<text class="dv" y="1476.8"><tspan x="2037">5</tspan><tspan x="2067">Mazita Osman</tspan><tspan x="2322">U11</tspan></text>
<text class="dv" y="1494.5"><tspan x="2037">6</tspan><tspan x="2322">U11</tspan></text>
<text class="dv" x="2067" y="1494.5" textLength="235" lengthAdjust="spacingAndGlyphs">Mohamad Faiz Hanif Mohamad Fazli</text>
<text class="dv" y="1512.2"><tspan x="2037">7</tspan><tspan x="2067">Kosong</tspan><tspan x="2322">U11</tspan></text>
</g>

<!-- Column 7 -->
<g id="sek-edaran">
<rect x="2382" y="428" width="352" height="93" fill="#f5c3cd"/>
<rect x="2382" y="428" width="352" height="47" fill="#e6536b"/>
<rect class="hb" x="2382" y="428" width="352" height="93"/>
<text class="hd" x="2558" y="459" textLength="199" lengthAdjust="spacingAndGlyphs">SEKSYEN AMALAN EDARAN BAIK</text>
<text class="hd" x="2563" y="504" textLength="198" lengthAdjust="spacingAndGlyphs">Nor Hafizah Mohd. Potri (UF54)</text>
</g>
<g id="ed-pf">
<rect class="box" x="2382" y="537" width="352" height="160"/>
<text class="t bd mid" x="2558" y="569">Pegawai Farmasi</text>
<text class="t" y="587"><tspan x="2392">1</tspan><tspan x="2420">Mohamed Shahrizan Shahrir</tspan><tspan x="2687">UF54</tspan></text>
<text class="t" y="604.3"><tspan x="2392">2</tspan><tspan x="2420">Shaik Muhammad Naquib Shaik Moha</tspan><tspan x="2687">UF54</tspan></text>
<text class="t" y="621.6"><tspan x="2392">3</tspan><tspan x="2420">Francis Teng Chuen Chuing</tspan><tspan x="2687">UF54</tspan></text>
<text class="t" y="638.9"><tspan x="2392">4</tspan><tspan x="2420">Siti Kamilah Malik</tspan><tspan x="2687">UF52</tspan></text>
<text class="t" y="656.2"><tspan x="2392">5</tspan><tspan x="2420">Liang Kai Siang</tspan><tspan x="2687">UF52</tspan></text>
<text class="t" y="673.5"><tspan x="2392">6</tspan><tspan x="2420">Muhammad Fariq Afifi Abdullah</tspan><tspan x="2687">UF52</tspan></text>
<text class="t" y="690.8"><tspan x="2392">7</tspan><tspan x="2420">Lim Chun Wei</tspan><tspan x="2687">UF52</tspan></text>
</g>
<g id="ed-ppf">
<rect class="box" x="2382" y="710" width="352" height="1055"/>
<text class="t bd mid" x="2531" y="726">Penolong Pegawai Farmasi</text>
<text class="t" y="747"><tspan x="2392">1</tspan><tspan x="2420">Shamala a/p Arumugam</tspan><tspan x="2687">U36</tspan></text>
<text class="t" y="764.8"><tspan x="2392">2</tspan><tspan x="2420">Chua Wone Tying</tspan><tspan x="2687">U36</tspan></text>
<text class="t" y="782.5"><tspan x="2392">3</tspan><tspan x="2420">Norshahriza Ahmad</tspan><tspan x="2687">U36</tspan></text>
<text class="t" y="800.3"><tspan x="2392">4</tspan><tspan x="2420">Rostam Abdullah</tspan><tspan x="2687">U32</tspan></text>
<text class="t" y="818.1"><tspan x="2392">5</tspan><tspan x="2420">Nor Syazana Abdul Aziz</tspan><tspan x="2687">U32</tspan></text>
<text class="t" y="835.9"><tspan x="2392">6</tspan><tspan x="2420">Sarimah Isma'ail</tspan><tspan x="2687">U32</tspan></text>
<text class="t" y="853.6"><tspan x="2392">7</tspan><tspan x="2420">Siti Nurhidayah Yusof</tspan><tspan x="2687">U32</tspan></text>
<text class="t" y="871.4"><tspan x="2392">8</tspan><tspan x="2420">Stefanie Joice a/p J. Richard</tspan><tspan x="2687">U29**</tspan></text>
<text class="t" y="889.2"><tspan x="2392">9</tspan><tspan x="2420">Rosemaria binti Majid</tspan><tspan x="2687">U29**</tspan></text>
<text class="t" y="906.9"><tspan x="2392">10</tspan><tspan x="2420">Nor Hafizah Abu Bakar</tspan><tspan x="2687">U29**</tspan></text>
<text class="t" y="924.7"><tspan x="2392">11</tspan><tspan x="2420">Asma Humaira Baharuddin</tspan><tspan x="2687">U29**</tspan></text>
<text class="t" y="942.5"><tspan x="2392">12</tspan><tspan x="2420">Siti Nur Azieyah Mohamad Sharai</tspan><tspan x="2687">U29**</tspan></text>
<text class="t" y="960.2"><tspan x="2392">13</tspan><tspan x="2420">Mohd Syamzuhar Kadir</tspan><tspan x="2687">U29**</tspan></text>
<text class="t" y="978"><tspan x="2392">14</tspan><tspan x="2420">Nurul Ain Abdul Rahman</tspan><tspan x="2687">U29</tspan></text>
<text class="t" y="995.8"><tspan x="2392">15</tspan><tspan x="2420">Mohammad Safwan Rajab</tspan><tspan x="2687">U29</tspan></text>
<text class="t" y="1013.6"><tspan x="2392">16</tspan><tspan x="2420">Raihan Firdaus Yusoff Fozi</tspan><tspan x="2687">U29</tspan></text>
<text class="t" y="1031.3"><tspan x="2392">17</tspan><tspan x="2420">Siti Nuratikah Abdul Rahman</tspan><tspan x="2687">U29</tspan></text>
<text class="t" y="1049.1"><tspan x="2392">18</tspan><tspan x="2420">Hemavathye a/p Rajan</tspan><tspan x="2687">U29</tspan></text>
<text class="t" y="1066.9"><tspan x="2392">19</tspan><tspan x="2420">Nor Hanani Lamri</tspan><tspan x="2687">U29**</tspan></text>
<text class="t" y="1084.6"><tspan x="2392">20</tspan><tspan x="2420">Noraidah Othman</tspan><tspan x="2687">U29**</tspan></text>
<text class="t" y="1102.4"><tspan x="2392">21</tspan><tspan x="2420">Siti Hajarul Akma Ibrahim</tspan><tspan x="2687">U29**</tspan></text>
<text class="t" y="1120.2"><tspan x="2392">22</tspan><tspan x="2420">Mohd Khairi Mohammad Isa</tspan><tspan x="2687">U29**</tspan></text>
<text class="t" y="1137.9"><tspan x="2392">23</tspan><tspan x="2420">Mohd Amir Syarifuddin Azmi</tspan><tspan x="2687">U29**</tspan></text>
<text class="t" y="1155.7"><tspan x="2392">24</tspan><tspan x="2420">Nordiyana Samsudin</tspan><tspan x="2687">U29**</tspan></text>
<text class="t" y="1173.5"><tspan x="2392">25</tspan><tspan x="2420">Nurain Abdul Aziz</tspan><tspan x="2687">U29**</tspan></text>
<text class="t" y="1191.3"><tspan x="2392">26</tspan><tspan x="2420">Nurul Asyikin Abd Rahim</tspan><tspan x="2687">U29</tspan></text>
<text class="t" y="1209"><tspan x="2392">27</tspan><tspan x="2420">Permit Kaur a/p Mehinder Singh</tspan><tspan x="2687">U29</tspan></text>
<text class="t" y="1226.8"><tspan x="2392">28</tspan><tspan x="2420">Amir Shaidin</tspan><tspan x="2687">U29</tspan></text>
<text class="t" y="1244.6"><tspan x="2392">29</tspan><tspan x="2420">Muhamad Hazman Mahadi</tspan><tspan x="2687">U29</tspan></text>
<text class="t" y="1262.3"><tspan x="2392">30</tspan><tspan x="2420">Mohd Iqbal Fariq Ibrahim</tspan><tspan x="2687">U29</tspan></text>
<text class="t" y="1280.1"><tspan x="2392">31</tspan><tspan x="2420">Nur 'Zufeeka Norazman</tspan><tspan x="2687">U29</tspan></text>
<text class="t" y="1297.9"><tspan x="2392">32</tspan><tspan x="2420">Syarief Azman Rosli</tspan><tspan x="2687">U29</tspan></text>
<text class="t" y="1315.6"><tspan x="2392">33</tspan><tspan x="2420">Syed Ahmad Wajeeh Syed Shiekh</tspan><tspan x="2687">U29</tspan></text>
<text class="t" y="1333.4"><tspan x="2392">34</tspan><tspan x="2420">Nur Intan Atiqah binti Jafree</tspan><tspan x="2687">U29</tspan></text>
<text class="t" y="1351.2"><tspan x="2392">35</tspan><tspan x="2420">Mohd Izzatul Fikri Kassim</tspan><tspan x="2687">U29</tspan></text>
<text class="t" y="1369"><tspan x="2392">36</tspan><tspan x="2420">Wan Nor Azuani Wan Ariffin</tspan><tspan x="2687">U29**</tspan></text>
<text class="t" y="1386.7"><tspan x="2392">37</tspan><tspan x="2420">Engku Maimunah Alawiyah</tspan><tspan x="2687">U29</tspan></text>
<text class="t" y="1404.5"><tspan x="2392">38</tspan><tspan x="2420">Pramila Nadaragan</tspan><tspan x="2687">U29</tspan></text>
<text class="t" y="1422.3"><tspan x="2392">39</tspan><tspan x="2420">Deneshwary A/P Sathiaselan</tspan><tspan x="2687">U29</tspan></text>
<text class="t" y="1440"><tspan x="2392">40</tspan><tspan x="2420">Tanujaapriya A/P Ramasamy</tspan><tspan x="2687">U29</tspan></text>
<text class="t" y="1457.8"><tspan x="2392">41</tspan><tspan x="2420">Suhaili Harun</tspan><tspan x="2687">U29</tspan></text>
<text class="t" y="1475.6"><tspan x="2392">42</tspan><tspan x="2420">Shamira Zainuddin</tspan><tspan x="2687">U29</tspan></text>
<text class="t" y="1493.3"><tspan x="2392">43</tspan><tspan x="2420">Nur Shabirah Sabdin</tspan><tspan x="2687">U29</tspan></text>
<text class="t" y="1511.1"><tspan x="2392">44</tspan><tspan x="2420">Sabrina Shaziyana Kos</tspan><tspan x="2687">U29</tspan></text>
<text class="t" y="1528.9"><tspan x="2392">45</tspan><tspan x="2420">Mohd Radzuan bin Zainuddin</tspan><tspan x="2687">U29</tspan></text>
<text class="t" y="1546.6"><tspan x="2392">46</tspan><tspan x="2420">Masmira Ramly</tspan><tspan x="2687">U29</tspan></text>
<text class="t" y="1564.4"><tspan x="2392">47</tspan><tspan x="2420">Wong Kwan Yee</tspan><tspan x="2687">U29</tspan></text>
<text class="t" y="1582.2"><tspan x="2392">48</tspan><tspan x="2420">Yasothaa a/p Ramaiyah</tspan><tspan x="2687">U29</tspan></text>
<text class="t" y="1600"><tspan x="2392">49</tspan><tspan x="2420">Tan Lee Vwen</tspan><tspan x="2687">U29</tspan></text>
<text class="t" y="1617.7"><tspan x="2392">50</tspan><tspan x="2420">Theebanraoo a/l Ramadoo</tspan><tspan x="2687">U29**</tspan></text>
<text class="t" y="1635.5"><tspan x="2392">51</tspan><tspan x="2420">Manchula a/p Malaisamy</tspan><tspan x="2687">U29</tspan></text>
<text class="t" y="1653.3"><tspan x="2392">52</tspan><tspan x="2420">Rohaya Binti Zulkifli</tspan><tspan x="2687">U29**</tspan></text>
<text class="t" y="1671"><tspan x="2392">53</tspan><tspan x="2420">Eunice Valerie Teng May Xian</tspan><tspan x="2687">U29</tspan></text>
<text class="t" y="1688.8"><tspan x="2392">54</tspan><tspan x="2687">U29</tspan></text>
<text class="t" x="2420" y="1688.8" style="font-size:13px" textLength="223" lengthAdjust="spacingAndGlyphs">Siti Maisarah Aliyah binti Md Khairuddin</text>
<text class="t" y="1706.6"><tspan x="2392">55</tspan><tspan x="2420">Kosong</tspan><tspan x="2687">U32</tspan></text>
<text class="t" y="1724.3"><tspan x="2392">56</tspan><tspan x="2420">Kosong</tspan><tspan x="2687">U29</tspan></text>
<text class="t" y="1742.1"><tspan x="2392">57</tspan><tspan x="2420">Kosong</tspan><tspan x="2687">U29</tspan></text>
<text class="t" y="1759.9"><tspan x="2392">58</tspan><tspan x="2420">Kosong</tspan><tspan x="2687">U29</tspan></text>
</g>

<!-- Column 8 -->
<g id="sek-perkilangan">
<rect x="2751" y="428" width="396" height="93" fill="#5fa8e8"/>
<rect x="2751" y="428" width="396" height="47" fill="#1b7bcf"/>
<rect class="hb" x="2751" y="428" width="396" height="93"/>
<text class="hd" x="2948" y="459" textLength="233" lengthAdjust="spacingAndGlyphs">SEKSYEN AMALAN PERKILANGAN BAIK</text>
<text class="hd" x="2948" y="504" textLength="203" lengthAdjust="spacingAndGlyphs">Aida Haryati Abdul Rahim (UF54)</text>
</g>
<g id="pk8-pf">
<rect class="box" x="2751" y="537" width="396" height="449"/>
<text class="t bd mid" x="2949" y="569">Pegawai Farmasi</text>
<text class="t" y="588"><tspan x="2755">1</tspan><tspan x="2796">Azraini Abdul Samat</tspan><tspan x="3094">UF54</tspan></text>
<text class="t" y="605.8"><tspan x="2755">2</tspan><tspan x="2796">Mohd Nasrul Mohd Noor ##</tspan><tspan x="3094">UF54</tspan></text>
<text class="t" y="623.6"><tspan x="2755">3</tspan><tspan x="2796">Fazillahnor Ab. Rahim</tspan><tspan x="3094">UF54</tspan></text>
<text class="t" y="641.4"><tspan x="2755">4</tspan><tspan x="2796">Belinna Abu Bakar</tspan><tspan x="3094">UF54</tspan></text>
<text class="t" y="659.2"><tspan x="2755">5</tspan><tspan x="2796">Hng Kim Mi</tspan><tspan x="3094">UF54</tspan></text>
<text class="t" y="677"><tspan x="2755">6</tspan><tspan x="2796">Wong Kuan Yeen</tspan><tspan x="3094">UF54</tspan></text>
<text class="t" y="694.8"><tspan x="2755">7</tspan><tspan x="2796">Liew Fei Hoong</tspan><tspan x="3094">UF54</tspan></text>
<text class="t" y="712.6"><tspan x="2755">8</tspan><tspan x="2796">Mokhzanni Mustapa</tspan><tspan x="3094">UF54</tspan></text>
<text class="t" y="730.4"><tspan x="2755">9</tspan><tspan x="2796">Muhammad Mawardi Zakaria</tspan><tspan x="3094">UF54</tspan></text>
<text class="t" y="748.2"><tspan x="2755">10</tspan><tspan x="2796">Abdul Hakim Mohd Isa ##</tspan><tspan x="3094">UF54</tspan></text>
<text class="t" y="766"><tspan x="2755">11</tspan><tspan x="2796">Alyaa Ismail</tspan><tspan x="3094">UF52</tspan></text>
<text class="t" y="783.8"><tspan x="2755">12</tspan><tspan x="2796">Lee Xiao Ying</tspan><tspan x="3094">UF52</tspan></text>
<text class="t" y="801.6"><tspan x="2755">13</tspan><tspan x="2796">Tan King Yong</tspan><tspan x="3094">UF52</tspan></text>
<text class="t" y="819.4"><tspan x="2755">14</tspan><tspan x="2796">Looi Pui Yan</tspan><tspan x="3094">UF52</tspan></text>
<text class="t" y="837.2"><tspan x="2755">15</tspan><tspan x="2796">Meera Kumari Ram Navas</tspan><tspan x="3094">UF52</tspan></text>
<text class="t" y="855"><tspan x="2755">16</tspan><tspan x="2796">Noor Aini Zainal Abidin</tspan><tspan x="3094">UF48</tspan></text>
<text class="t" y="872.8"><tspan x="2755">17</tspan><tspan x="2796">Norizzati Adila Salam</tspan><tspan x="3094">UF48</tspan></text>
<text class="t" y="890.6"><tspan x="2755">18</tspan><tspan x="2796">Mohamad Khirul Anuar Mohd Noor</tspan><tspan x="3094">UF48</tspan></text>
<text class="t" y="908.4"><tspan x="2755">19</tspan><tspan x="2796">Syafiqah Ab Jalil</tspan><tspan x="3094">UF48</tspan></text>
<text class="t" y="926.2"><tspan x="2755">20</tspan><tspan x="2796">Yah Xin Yun</tspan><tspan x="3094">UF48</tspan></text>
<text class="t" y="944"><tspan x="2755">21</tspan><tspan x="2796">Muhammad Amirul Naqiuddin M Azmi</tspan><tspan x="3094">UF48</tspan></text>
<text class="t" y="961.8"><tspan x="2755">22</tspan><tspan x="2796">Koo Jun Hao</tspan><tspan x="3094">UF48</tspan></text>
<text class="t" y="979.6"><tspan x="2755">23</tspan><tspan x="2796">Kosong</tspan><tspan x="3094">UF48</tspan></text>
</g>
<g id="pk8-ppf">
<rect class="box" x="2751" y="1001" width="396" height="53"/>
<text class="t bd mid" x="2949" y="1015">Penolong Pegawai Farmasi</text>
<text class="t" y="1034"><tspan x="2755">1</tspan><tspan x="2796">Alisha Cindy a/p Abraham</tspan><tspan x="3094">U29</tspan></text>
</g>
<g id="pk8-pt">
<rect class="box" x="2751" y="1072" width="396" height="53"/>
<text class="t bd mid" x="2949" y="1087">Pembantu Tadbir</text>
<text class="t" y="1105"><tspan x="2755">1</tspan><tspan x="2796">Siti Nazwa Roslee</tspan><tspan x="3094">N19</tspan></text>
</g>

<!-- Approval block -->
<g id="kelulusan">
<rect class="box" x="156" y="1483" width="688" height="178"/>
<text class="t" x="160" y="1503">Tarikh Kuat Kuasa :</text>
<text class="t" x="160" y="1548">Diluluskan oleh :</text>
<line x1="302" y1="1569" x2="590" y2="1569" stroke="#1a1a1a" stroke-width="1.5" stroke-dasharray="1.5 2"/>
<text class="t" x="302" y="1593">Pengarah</text>
<text class="t" x="302" y="1614">Bahagian Regulatori Farmasi Negara (NPRA)</text>
<text class="t" x="302" y="1636">Kementerian Kesihatan Malaysia</text>
</g>
<g id="tandatangan" fill="none" stroke="#151515" stroke-width="3" stroke-linecap="round">
<ellipse cx="500" cy="1523" rx="202" ry="37" transform="rotate(-2 500 1523)"/>
<path d="M298 1487 C360 1496 520 1500 560 1494 C600 1488 590 1468 555 1472 C515 1478 470 1520 560 1532 C620 1540 690 1530 702 1518"/>
<path d="M523 1578 L583 1449 M553 1549 L580 1486 M545 1562 L600 1470 M448 1545 L500 1523 L470 1541 L540 1515"/>
</g>
<text class="hw" x="759" y="1650" textLength="206" lengthAdjust="spacingAndGlyphs">27/7/2024</text>
<text class="hw" x="254" y="1712" textLength="239" lengthAdjust="spacingAndGlyphs">b. P PUPRA</text>
<g id="cop">
<text class="stamp bd" x="541" y="1736" textLength="401" lengthAdjust="spacingAndGlyphs">SALWATI BINTI ABD KADIR (RPh 1875)</text>
<text class="stamp" x="543" y="1764" textLength="189" lengthAdjust="spacingAndGlyphs">Timbalan Pengarah</text>
<text class="stamp" x="545" y="1789" textLength="515" lengthAdjust="spacingAndGlyphs">Pusat Koordinasi &amp; Perancangan Strategik Regulatori</text>
<text class="stamp" x="545" y="1817" textLength="359" lengthAdjust="spacingAndGlyphs">Bahagian Regulatori Farmasi Negara</text>
<text class="stamp" x="547" y="1844" textLength="316" lengthAdjust="spacingAndGlyphs">Kementerian Kesihatan Malaysia</text>
</g>
</g>
</svg>
